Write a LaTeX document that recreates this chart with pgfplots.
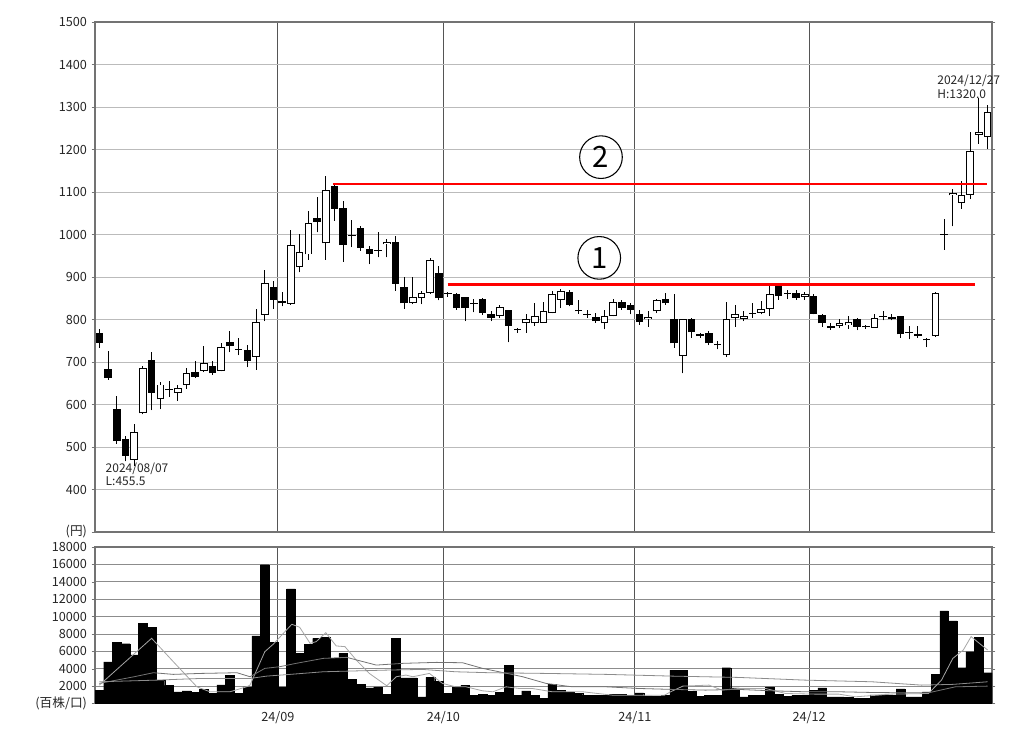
\documentclass[border=0pt]{standalone}
\usepackage{fontspec}
\setmainfont{Noto Sans CJK JP}
\usepackage{pgfplots}
\usepackage{pgfplotstable}
\pgfplotsset{compat=1.18}

% daily candles: index, open, high, low, close
\pgfplotstableread{
i o h l c
0 768 778 733 745
1 684 727 658 662
2 589 620 508 514
3 519 527 466 480
4 469 555 455.5 536
5 579 690 577 686
6 705 723 587 628
7 612 652 589 647
8 637 655 618 634
9 627 645 609 638
10 647 685 637 673
11 677 702 663 665
12 679 737 676 698
13 691 702 670 673
14 680 744 678 735
15 748 774 723 737
16 730 756 716 729
17 729 739 688 702
18 712 825 682 795
19 811 917 796 885
20 877 891 825 846
21 844 864 831 838
22 837 1011 835 976
23 923 1001 911 958
24 953 1055 941 1028
25 1039 1089 1005 1030
26 979 1137 941 1105
27 1114 1120 1032 1061
28 1062 1079 936 975
29 999 1034 970 997
30 1016 1020 962 969
31 966 973 930 954
32 962 1007 946 963
33 977 989 946 983
34 983 997 868 884
35 876 899 825 838
36 838 901 836 852
37 851 868 836 862
38 862 944 860 941
39 909 927 845 850
40 863 865 854 860
41 859 862 823 827
42 852 853 796 827
43 837 848 817 836
44 848 850 811 815
45 813 821 796 804
46 808 835 804 829
47 822 823 746 785
48 776 781 769 775
49 791 814 769 802
50 791 839 785 808
51 792 842 792 819
52 815 868 815 861
53 846 871 827 867
54 864 869 831 835
55 820 846 814 819
56 811 823 804 812
57 806 815 792 796
58 791 823 777 808
59 808 848 808 841
60 840 846 823 828
61 833 838 812 823
62 812 823 788 794
63 800 819 783 806
64 819 848 815 845
65 848 862 835 838
66 802 859 734 744
67 714 802 673 800
68 800 804 757 770
69 765 768 757 761
70 769 773 740 744
71 740 749 730 739
72 716 841 712 800
73 804 835 783 812
74 802 820 796 808
75 814 839 804 816
76 816 843 812 825
77 825 882 808 859
78 880 882 847 855
79 863 869 848 861
80 862 869 847 851
81 853 864 847 860
82 856 859 812 813
83 810 812 783 791
84 784 792 776 781
85 784 800 780 792
86 786 808 778 794
87 802 804 775 783
88 782 788 778 785
89 780 814 780 804
90 805 820 798 807
91 806 812 798 800
92 808 808 757 765
93 769 784 753 768
94 766 784 757 761
95 751 757 735 752
96 761 864 760 863
97 999 1036 964 1001
98 1092 1107 1019 1097
99 1075 1126 1061 1093
100 1093 1241 1083 1196
101 1235 1320 1213 1242
102 1229 1304 1202 1288
}\ohlc

% volume (hundreds of shares)
\pgfplotstableread{
i v
0 1540
1 4800
2 7040
3 6880
4 5580
5 9230
6 8770
7 2690
8 2080
9 1350
10 1460
11 1310
12 1620
13 1150
14 2150
15 3270
16 1150
17 1920
18 7770
19 15960
20 7040
21 1920
22 13190
23 5770
24 6810
25 7500
26 7580
27 5190
28 5770
29 2770
30 2230
31 1810
32 1920
33 1080
34 7500
35 2960
36 2960
37 770
38 3000
39 2580
40 1150
41 1920
42 2120
43 960
44 1080
45 960
46 1310
47 4380
48 920
49 1460
50 920
51 580
52 2230
53 1540
54 1350
55 1150
56 960
57 960
58 960
59 1040
60 1040
61 960
62 1230
63 880
64 850
65 960
66 3850
67 3850
68 1420
69 850
70 960
71 960
72 4120
73 1810
74 770
75 920
76 920
77 1920
78 1080
79 850
80 920
81 920
82 1540
83 1810
84 770
85 770
86 690
87 620
88 620
89 1000
90 1000
91 920
92 1690
93 770
94 770
95 1350
96 3350
97 10650
98 9500
99 4120
100 5960
101 7620
102 3540
}\vol

\definecolor{gridc}{HTML}{BBBBBB}
\definecolor{monthc}{HTML}{555555}

\pgfplotsset{
  chartbase/.style={
    scale only axis, width=672.75pt,
    xmin=-0.5, xmax=102.5,
    xtick={20.5,39.5,61.5,81.5},
    xmajorgrids, ymajorgrids,
    x grid style={monthc, line width=0.7pt},
    y grid style={gridc, line width=0.6pt},
    axis line style={black!55, line width=0.8pt},
    tick align=outside, major tick length=2.5pt,
    ytick style={black!55},
    xtick style={draw=none},
    scaled y ticks=false,
    tick label style={font=\fontsize{9.5}{10}\selectfont, text=black!85},
  },
  candle/.style={only marks, mark size=0pt, mark options={draw=none, fill=none},
    error bars/y dir=plus, error bars/y explicit, error bars/error mark=none,
    error bars/error bar style={line width=#1, line cap=butt}},
}

\begin{document}
\begin{tikzpicture}
\path[use as bounding box] (0,0) rectangle (768pt,558pt);

\begin{axis}[chartbase,
  at={(71.25pt,159pt)}, anchor=south west, height=382.5pt,
  ymin=300, ymax=1500,
  ytick={300,400,...,1500},
  yticklabels={(円),400,500,600,700,800,900,1000,1100,1200,1300,1400,1500},
  xticklabels={},
  clip mode=individual,
]
% wicks (low to high)
\addplot[black, candle=0.75pt] table[x=i, y=l,
  y error expr={\thisrow{h}-\thisrow{l}}] {\ohlc};
% bodies (black frame / black fill)
\addplot[black, candle=5.7pt] table[x=i,
  y expr={min(\thisrow{o},\thisrow{c})},
  y error expr={max(abs(\thisrow{c}-\thisrow{o}),2.3)}] {\ohlc};
% hollow inside for rising days
\addplot[white, candle=4.2pt] table[x=i,
  y expr={\thisrow{c}>\thisrow{o} ? \thisrow{o}+2.2 : 0},
  y error expr={\thisrow{c}>\thisrow{o} ? max(\thisrow{c}-\thisrow{o}-4.4,0) : 0}] {\ohlc};

\addplot[red, line width=2.1pt] coordinates {(26.8,1119) (101.9,1119)};
\addplot[red, line width=2.1pt] coordinates {(40,883) (100.5,883)};

\node[circle, draw=black, line width=0.8pt, minimum size=32pt, inner sep=0pt,
  font=\fontsize{22}{22}\selectfont] at (axis cs:57.6,1182) {2};
\node[circle, draw=black, line width=0.8pt, minimum size=32pt, inner sep=0pt,
  font=\fontsize{22}{22}\selectfont] at (axis cs:57.4,945) {1};

\node[anchor=north west, align=left, inner sep=0pt,
  font=\fontsize{9}{10}\selectfont, text=black!85] at (axis cs:0.7,463) {2024/08/07\\L:455.5};
\node[anchor=north west, align=left, inner sep=0pt,
  font=\fontsize{9}{10}\selectfont, text=black!85] at (axis cs:96.2,1375) {2024/12/27\\H:1320.0};
\end{axis}

\begin{axis}[chartbase,
  at={(71.25pt,30.375pt)}, anchor=south west, height=117.375pt,
  ymin=0, ymax=18000,
  ytick={0,2000,...,18000},
  yticklabels={(百株/口),2000,4000,6000,8000,10000,12000,14000,16000,18000},
  xticklabels={24/09,24/10,24/11,24/12},
  y grid style={black!45, line width=0.6pt},
]
\addplot[ybar, bar width=1, bar shift=0, fill=black, draw=black, line width=0.2pt]
  table[x=i, y=v] {\vol};

% moving averages
\addplot[black!35, line width=0.6pt] coordinates {
(0,2115) (6,7500) (8.5,4800) (11.2,1920) (12.7,1350) (15,1350) (16.9,1920) (17.3,2115)
(19,5960) (20,6850) (22.1,9115) (23,8770) (24.2,6920) (24.9,7115) (26,8150) (27.2,6620)
(28.2,6540) (29.5,5000) (31,3460) (33,2040) (34.1,3080) (35.2,3270) (36,3080) (37.9,3460)
(39.4,2310) (40.9,1920) (42.1,1920) (44,1460) (45.2,1350) (46.7,1920) (48.2,1730) (49.7,1730)
(52,1350) (55.5,1350) (58.9,960) (62.4,960) (64.9,960) (65.6,1350) (67,2000) (70,2115)
(71.5,1540) (73.4,1730) (76.5,1730) (78.8,1150) (82.2,1080) (84.9,1080) (86.8,770) (91,1080)
(95.2,1150) (96.7,2690) (98,5190) (99.2,6150) (100.1,7690) (102,6150)};
\addplot[black!55, line width=0.6pt] coordinates {
(0,2310) (4,3080) (6.2,3540) (8.5,3350) (11.6,3460) (15.8,3540) (17.3,3080) (19,4040)
(20.7,4230) (22.6,4620) (25.7,5190) (28.4,5310) (30.3,4810) (31.8,4420) (34.9,4620) (38.7,4730)
(41.7,4690) (44,4040) (45.9,3650) (48.6,3080) (51.3,2310) (54.3,1920) (58.2,1920) (61.9,1730)
(65.8,1620) (69.6,1540) (73.4,1620) (77.2,1460) (81,1350) (84.9,1350) (88.7,1270) (92.5,1230)
(95.2,1230) (98.3,1920) (102,2000)};
\addplot[black!45, line width=0.6pt] coordinates {
(0,2500) (6.6,2690) (11.6,2880) (17.3,2880) (19.2,3150) (21.9,3350) (25.7,3650) (28.7,3730)
(33.3,3850) (37.1,3920) (40.9,3650) (44.8,3540) (51.3,3460) (58.2,3350) (65.8,3150) (73.4,3000)
(81,2690) (88.7,2500) (94.4,2115) (98,2200) (102,2500)};
\end{axis}
\end{tikzpicture}
\end{document}
